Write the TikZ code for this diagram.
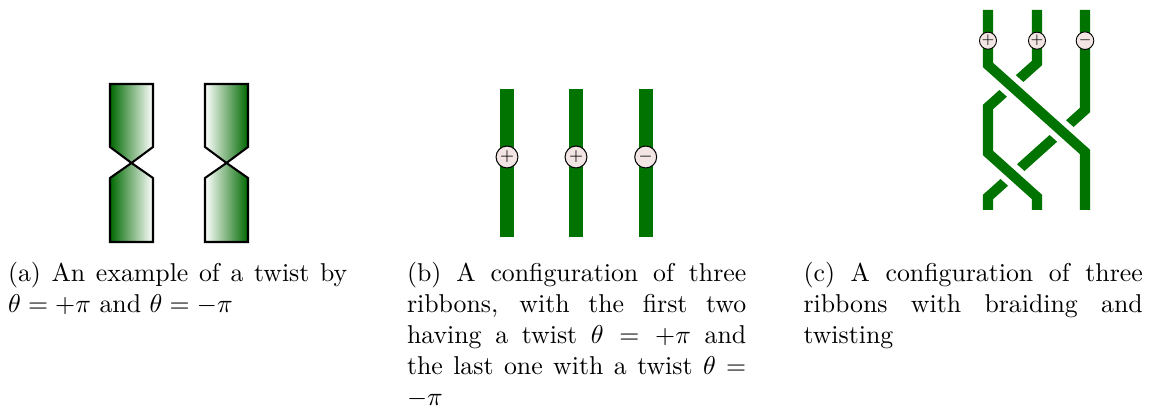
\documentclass[tikz,border=0pt]{standalone}
\usepackage{amsmath}
\definecolor{strandgreen}{RGB}{0,115,0}
\definecolor{ribgreen}{RGB}{0,105,0}
\definecolor{twfill}{RGB}{244,229,229}
\hyphenpenalty=10000
\exhyphenpenalty=10000
\tolerance=3000
\begin{document}
\begin{tikzpicture}[x=0.3876pt,y=-0.3876pt,
  outl/.style={draw=black,line width=0.8pt,line join=miter},
  ribL/.style={outl,left color=ribgreen,right color=white},
  ribR/.style={outl,left color=white,right color=ribgreen},
  bar/.style={draw=strandgreen,line width=5.5pt},
  strand/.style={draw=strandgreen,line width=3.9pt,line join=miter},
  overstrand/.style={strand,preaction={draw=white,line width=8.4pt,line join=miter}},
  twB/.style={circle,draw=black,line width=0.4pt,fill=twfill,inner sep=0pt,minimum size=8.5pt,font=\fontsize{6}{7}\selectfont},
  twC/.style={circle,draw=black,line width=0.35pt,fill=twfill,inner sep=0pt,minimum size=6.4pt,font=\fontsize{4.6}{5}\selectfont},
  capt/.style={anchor=base west,inner sep=0pt,text width=131.5pt,align=justify,font=\normalsize}]
\useasboundingbox (0,0) rectangle (1151,415);
% (a) twisted ribbons
\path[ribL] (110,84) -- (153,84) -- (153,147) -- (131.5,163) -- (110,147) -- cycle;
\path[ribL] (110,242) -- (153,242) -- (153,178) -- (131.5,163) -- (110,178) -- cycle;
\path[ribR] (205,84) -- (248,84) -- (248,147) -- (226.5,163) -- (205,147) -- cycle;
\path[ribR] (205,242) -- (248,242) -- (248,178) -- (226.5,163) -- (205,178) -- cycle;
% (b) three ribbons
\draw[bar] (507,89) -- (507,237);
\draw[bar] (576,89) -- (576,237);
\draw[bar] (645.7,89) -- (645.7,237);
\node[twB] (b1) at (507,157) {$+$};
\node[twB] (b2) at (576,157) {$+$};
\node[twB] (b3) at (645.7,157) {$-$};
% (c) braid
\draw[strand] (1085,10) -- (1085,110) -- (988,197) -- (988,210);
\draw[overstrand] (1037,10) -- (1037,63) -- (988,107) -- (988,153) -- (1037,197) -- (1037,210);
\draw[overstrand] (988,10) -- (988,65) -- (1085,152) -- (1085,210);
\node[twC] (c1) at (988,40.7) {$+$};
\node[twC] (c2) at (1037,40.7) {$+$};
\node[twC] (c3) at (1085,40.7) {$-$};
% captions
\node[capt] (capa) at (7.5,282) {(a) An example of a twist by $\theta=+\pi$ and $\theta=-\pi$};
\node[capt] (capb) at (406.5,282) {(b) A configuration of three ribbons, with the first two having a twist $\theta=+\pi$ and\linebreak the last one with a twist $\theta=-\pi$};
\node[capt] (capc) at (803,282) {(c) A configuration of three ribbons with braiding and twisting};
\end{tikzpicture}
\end{document}
